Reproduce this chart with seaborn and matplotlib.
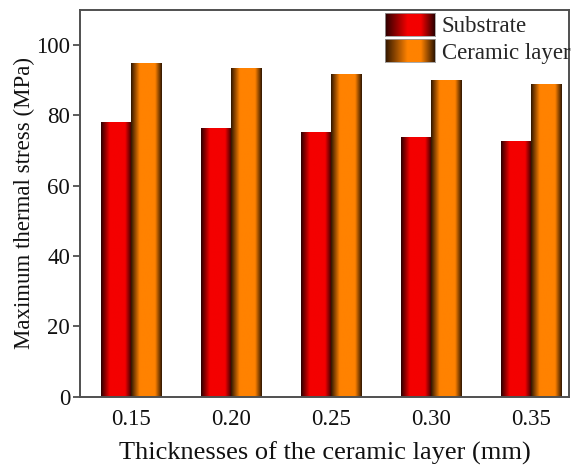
import numpy as np
import pandas as pd
import matplotlib
matplotlib.use("Agg")
import matplotlib.pyplot as plt
from matplotlib.colors import LinearSegmentedColormap
from matplotlib.patches import Patch
import seaborn as sns

thickness = ["0.15", "0.20", "0.25", "0.30", "0.35"]
substrate = [78.0, 76.3, 75.3, 73.9, 72.8]
ceramic = [95.0, 93.4, 91.8, 90.0, 88.8]
series = ["Substrate", "Ceramic layer"]

df = pd.DataFrame({
    "thickness": thickness * 2,
    "stress": substrate + ceramic,
    "layer": [series[0]] * len(thickness) + [series[1]] * len(thickness),
})

sns.set_theme(style="white")
plt.rcParams["font.family"] = ["Liberation Serif", "DejaVu Serif"]

base = {"Substrate": "#f40000", "Ceramic layer": "#ff8200"}
dark = {"Substrate": "#2a0000", "Ceramic layer": "#2e1500"}


def shade_cmap(name, stops):
    # cylinder-like shading: dark edges, bright body
    return LinearSegmentedColormap.from_list(
        name, [(0.0, dark[name]), (stops[0], base[name]), (stops[1], base[name]), (1.0, dark[name])]
    )


cmaps = {k: shade_cmap(k, (0.28, 0.78)) for k in series}
legend_cmaps = {k: shade_cmap(k, (0.45, 0.72)) for k in series}
grad = np.linspace(0, 1, 256).reshape(1, -1)

fig = plt.figure(figsize=(5.71, 4.66), dpi=100)
ax = fig.add_axes([0.140, 0.149, 0.857, 0.830])

sns.barplot(data=df, x="thickness", y="stress", hue="layer", order=thickness,
            hue_order=series, palette=base, width=0.6, saturation=1,
            edgecolor="#1a0a00", linewidth=0.4, ax=ax, legend=False)

xlim = (-0.507, 4.383)
ylim = (0, 110)

# overlay the gradient on each bar, clipped to the bar outline
n = len(thickness)
for i, patch in enumerate(ax.patches):
    name = series[i // n]
    x0 = patch.get_x()
    w = patch.get_width()
    h = patch.get_height()
    im = ax.imshow(grad, cmap=cmaps[name], aspect="auto",
                   extent=[x0, x0 + w, 0, h], zorder=patch.get_zorder() + 0.1,
                   interpolation="bilinear")
    im.set_clip_path(patch)

ax.set_xlim(*xlim)
ax.set_ylim(*ylim)
ax.set_yticks([0, 20, 40, 60, 80, 100])
ax.tick_params(axis="y", which="both", left=True, direction="out", length=5,
               width=1.2, color="#404040", labelsize=16.5, pad=2, labelcolor="#111111")
ax.tick_params(axis="x", bottom=False, labelsize=16.5, pad=3, labelcolor="#111111")
ax.set_xlabel("Thicknesses of the ceramic layer (mm)", fontsize=19, labelpad=8,
              color="#111111")
ax.set_ylabel("Maximum thermal stress (MPa)", fontsize=16.5, labelpad=1, color="#111111")
for s in ax.spines.values():
    s.set_color("#505050")
    s.set_linewidth(1.4)

handles = [Patch(facecolor=base[k], edgecolor="none") for k in series]
leg = ax.legend(handles, series, loc="upper left",
                bbox_to_anchor=(385 / 571, 1 - 13 / 466), bbox_transform=fig.transFigure,
                frameon=False, fontsize=16.5, handlelength=2.18, handleheight=1.15,
                handletextpad=0.3, labelspacing=0.1, borderaxespad=0, borderpad=0)

fig.canvas.draw()
inv = fig.transFigure.inverted()
for patch, name in zip(leg.get_patches(), series):
    bb = patch.get_window_extent()
    (fx0, fy0), (fx1, fy1) = inv.transform([[bb.x0, bb.y0], [bb.x1, bb.y1]])
    hax = fig.add_axes([fx0, fy0, fx1 - fx0, fy1 - fy0])
    hax.imshow(grad, cmap=legend_cmaps[name], aspect="auto", interpolation="bilinear")
    for s in hax.spines.values():
        s.set_color("#9a9a9a")
        s.set_linewidth(0.6)
    hax.set_xticks([])
    hax.set_yticks([])

fig.savefig("out.png", dpi=100)
